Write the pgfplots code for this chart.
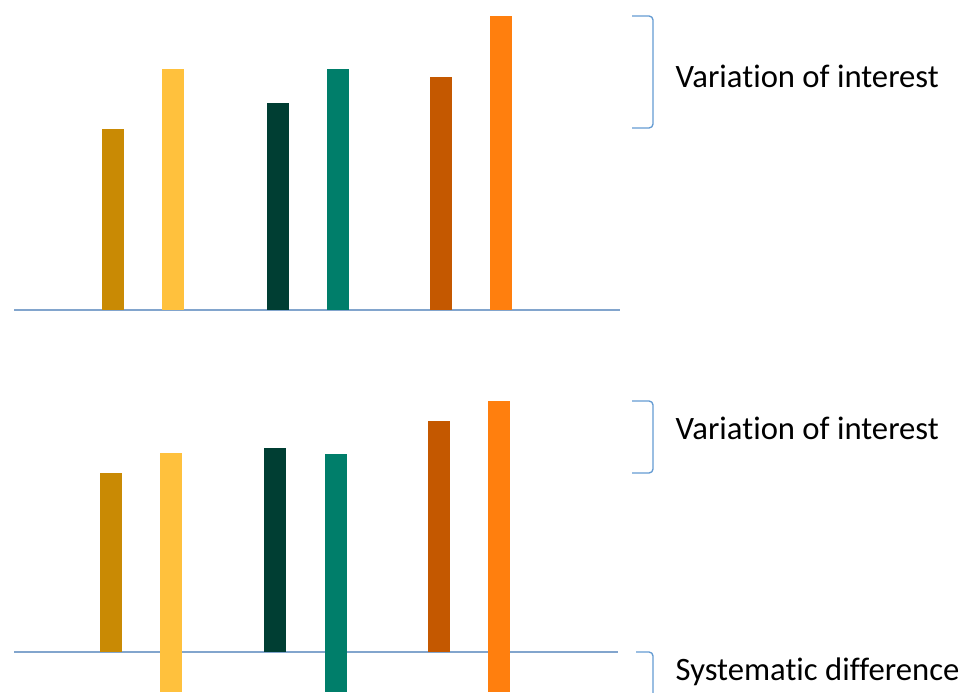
\documentclass[border=0pt]{standalone}
\usepackage{pgfplots}
\pgfplotsset{compat=1.18}
\usepackage{fontspec}
\setmainfont[Ligatures=NoCommon]{Carlito}

\definecolor{c1}{RGB}{201,138,4}
\definecolor{c2}{RGB}{255,193,61}
\definecolor{c3}{RGB}{0,62,51}
\definecolor{c4}{RGB}{0,126,106}
\definecolor{c5}{RGB}{196,88,0}
\definecolor{c6}{RGB}{255,127,14}
\definecolor{baseln}{RGB}{130,165,205}
\definecolor{bracec}{RGB}{100,155,210}

\pgfplotsset{
  panel/.style={
    x=0.75pt, y=0.75pt,
    xmin=0, xmax=962,
    axis lines=none,
    clip=false,
    anchor=south west,
  },
  bar/.style={ybar, bar width=22, bar shift=0pt, draw=none, fill=#1},
}
\tikzset{
  brace/.style={draw=bracec, line width=1pt, rounded corners=3pt},
  lbl/.style={anchor=west, font=\fontsize{24.5}{28}\selectfont},
}

\begin{document}
\begin{tikzpicture}[x=0.75pt,y=0.75pt]
\useasboundingbox (0,0) rectangle (962,692);

% top panel: bars measured from the baseline, in px
\begin{axis}[panel, at={(0,382)}, ymin=0, ymax=310]
  \draw[baseln, line width=1pt] (axis cs:14,0) -- (axis cs:620,0);
  \addplot[bar=c1] coordinates {(113,181)};
  \addplot[bar=c2] coordinates {(173,241)};
  \addplot[bar=c3] coordinates {(278,207)};
  \addplot[bar=c4] coordinates {(338,241)};
  \addplot[bar=c5] coordinates {(441,233)};
  \addplot[bar=c6] coordinates {(501,294)};
  \draw[brace] (axis cs:632,294) -- (axis cs:653,294) -- (axis cs:653,182) -- (axis cs:632,182);
  \node[lbl] at (axis cs:671,234) {Variation of interest};
\end{axis}

% bottom panel: bars 2, 4, 6 run on below the baseline
\begin{axis}[panel, at={(0,0)}, ymin=-40, ymax=300]
  \draw[baseln, line width=1pt] (axis cs:14,0) -- (axis cs:618,0);
  \addplot[bar=c1] coordinates {(111,179)};
  \addplot[bar=c2] coordinates {(171,199)};
  \addplot[bar=c2] coordinates {(171,-40)};
  \addplot[bar=c3] coordinates {(275,204)};
  \addplot[bar=c4] coordinates {(336,198)};
  \addplot[bar=c4] coordinates {(336,-40)};
  \addplot[bar=c5] coordinates {(439,231)};
  \addplot[bar=c6] coordinates {(499,251)};
  \addplot[bar=c6] coordinates {(499,-40)};
  \draw[brace] (axis cs:632,251) -- (axis cs:653,251) -- (axis cs:653,179) -- (axis cs:632,179);
  \draw[brace] (axis cs:636,0) -- (axis cs:653,0) -- (axis cs:653,-45);
  \node[lbl] at (axis cs:671,224) {Variation of interest};
  \node[lbl] at (axis cs:671,-20) {Systematic difference};
\end{axis}
\end{tikzpicture}
\end{document}
